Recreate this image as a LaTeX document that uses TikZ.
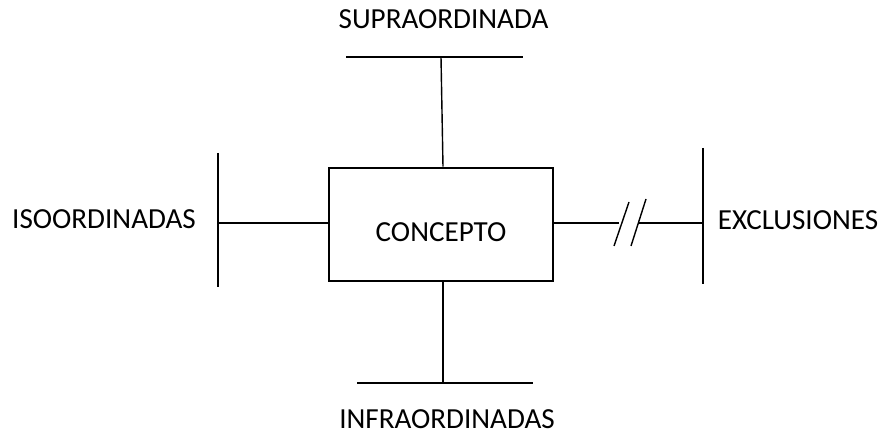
\documentclass[tikz,border=0pt]{standalone}
\usepackage{fontspec}
\setmainfont{Carlito}

\begin{document}
\begin{tikzpicture}[x=0.025cm,y=-0.025cm,%
% common options for the words:
word/.style = {inner sep=0, font=\fontsize{20.7}{24}\selectfont},
% options for the central block:
block/.style = {draw, line width=1.4pt, minimum width=5.6cm,
            minimum height=2.84cm, inner sep=0},
% bars and the lines that join them:
bar/.style = {line width=1.4pt},
link/.style = {line width=1pt}]
\useasboundingbox (0,0) rectangle (883,432);
\node[block] (C) at (441,224.5) {};
\node[word] (C0) at (441,232.5) {CONCEPTO};
\node[word] (S) at (443.5,19.5) {SUPRAORDINADA};
\node[word] (I) at (447,419.5) {INFRAORDINADAS};
\node[word] (L) at (104,219.5) {ISOORDINADAS};
\node[word] (E) at (798,220.5) {EXCLUSIONES};
% ends of the four bars
\coordinate (S1) at (346,57);
\coordinate (S2) at (523,57);
\coordinate (Sm) at (441,57);
\coordinate (I1) at (357,383);
\coordinate (I2) at (533,383);
\coordinate (Im) at (443,383);
\coordinate (L1) at (218,153);
\coordinate (L2) at (218,287);
\coordinate (Lm) at (218,223);
\coordinate (E1) at (703,148);
\coordinate (E2) at (703,284);
\coordinate (Em) at (703,223);
\coordinate (B1) at (619,223);
\coordinate (B2) at (639,223);
\draw[bar] (S1) -- (S2);
\draw[bar] (I1) -- (I2);
\draw[bar] (L1) -- (L2);
\draw[bar] (E1) -- (E2);
\draw[link] ([xshift=0.05cm]C.north) -- (Sm);
\draw[link] (C.south -| Im) -- (Im);
\draw[link] (Lm -| C.west) -- (Lm);
% broken line to the exclusions
\draw[link] (Em -| C.east) -- (B1);
\draw[link] (B2) -- (Em);
\draw[link] (614,246) -- (629,202);
\draw[link] (631,246) -- (646,199);
\end{tikzpicture}
\end{document}
